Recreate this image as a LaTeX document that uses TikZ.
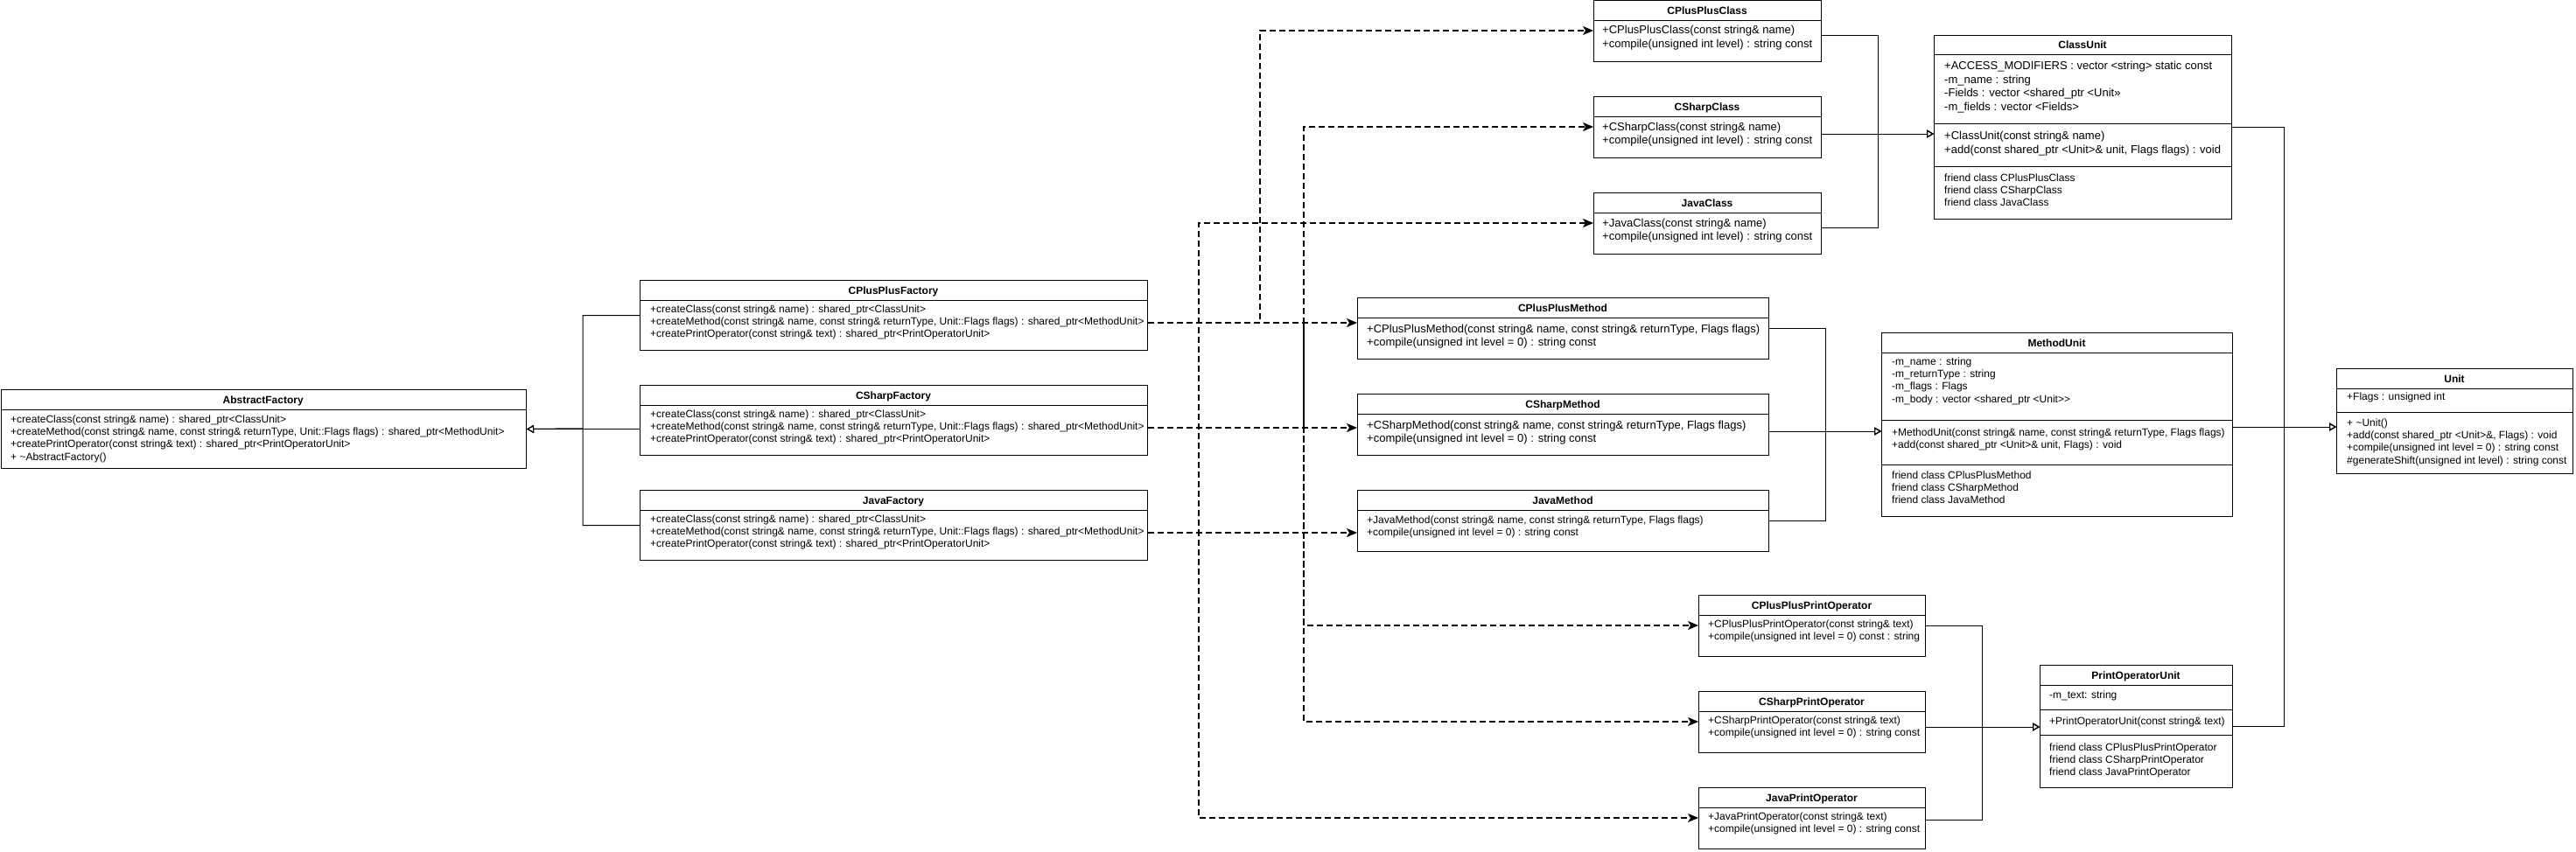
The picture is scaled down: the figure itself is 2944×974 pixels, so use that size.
\documentclass[tikz,border=0pt]{standalone}
\usepackage{fontspec}
\setmainfont{Liberation Sans}
\usetikzlibrary{arrows.meta}
\newcommand\umlrow[1]{\hbox{#1}}
\newcommand\umllines[1]{\vtop{#1}}
\tikzset{
  box/.style={draw, line width=1pt, inner sep=0pt, anchor=north west},
  hdr/.style={anchor=base, inner sep=0pt, font=\fontsize{12}{14.4}\selectfont\bfseries},
  tx/.style={anchor=base west, inner sep=0pt, font=\fontsize{12}{14.4}\selectfont},
  txl/.style={anchor=base west, inner sep=0pt, font=\fontsize{13}{15.6}\selectfont},
  sep/.style={line width=1pt},
  dep/.style={line width=1.5pt, dash pattern=on 7pt off 4pt, -{Stealth[length=12pt,width=10pt,inset=3pt]}},
  inh/.style={line width=1pt, -{Triangle[open,length=8pt,width=9pt]}}
}
\newcommand\umlbox[6]{%
  \node[box, minimum width=#4pt, minimum height=#5pt] (#1) at (#2,#3) {};
  \node[hdr] (#1-h) at ({#2+#4/2},{#3+16}) {#6};
  \draw[sep] (#2,{#3+23}) -- ++(#4,0);
}
\begin{document}
\begin{tikzpicture}[x=1pt,y=-1pt]
\useasboundingbox (0,0) rectangle (2944,974);

% ---------- AbstractFactory ----------
\umlbox{af}{0.5}{445}{600.5}{90}{AbstractFactory}
\node[tx] (af-t) at (12,483) {\umllines{%
\umlrow{+createClass(const string\& name) : shared\_ptr<ClassUnit>}%
\umlrow{+createMethod(const string\& name, const string\& returnType, Unit::Flags flags) : shared\_ptr<MethodUnit>}%
\umlrow{+createPrintOperator(const string\& text) : shared\_ptr<PrintOperatorUnit>}%
\umlrow{+ \textasciitilde AbstractFactory()}}};

% ---------- Factories ----------
\umlbox{cppf}{731}{320}{580}{80}{CPlusPlusFactory}
\node[tx] (cppf-t) at (743,357) {\umllines{%
\umlrow{+createClass(const string\& name) : shared\_ptr<ClassUnit>}%
\umlrow{+createMethod(const string\& name, const string\& returnType, Unit::Flags flags) : shared\_ptr<MethodUnit>}%
\umlrow{+createPrintOperator(const string\& text) : shared\_ptr<PrintOperatorUnit>}}};

\umlbox{csf}{731}{440}{580}{80}{CSharpFactory}
\node[tx] (csf-t) at (743,477) {\umllines{%
\umlrow{+createClass(const string\& name) : shared\_ptr<ClassUnit>}%
\umlrow{+createMethod(const string\& name, const string\& returnType, Unit::Flags flags) : shared\_ptr<MethodUnit>}%
\umlrow{+createPrintOperator(const string\& text) : shared\_ptr<PrintOperatorUnit>}}};

\umlbox{jf}{731}{560}{580}{80}{JavaFactory}
\node[tx] (jf-t) at (743,597) {\umllines{%
\umlrow{+createClass(const string\& name) : shared\_ptr<ClassUnit>}%
\umlrow{+createMethod(const string\& name, const string\& returnType, Unit::Flags flags) : shared\_ptr<MethodUnit>}%
\umlrow{+createPrintOperator(const string\& text) : shared\_ptr<PrintOperatorUnit>}}};

% ---------- Classes ----------
\umlbox{cppc}{1821}{0.5}{260}{69.5}{CPlusPlusClass}
\node[txl] (cppc-t) at (1831,39) {\umllines{%
\umlrow{+CPlusPlusClass(const string\& name)}%
\umlrow{+compile(unsigned int level) : string const}}};

\umlbox{csc}{1821}{110}{260}{70}{CSharpClass}
\node[txl] (csc-t) at (1831,149) {\umllines{%
\umlrow{+CSharpClass(const string\& name)}%
\umlrow{+compile(unsigned int level) : string const}}};

\umlbox{jc}{1821}{220}{260}{70}{JavaClass}
\node[txl] (jc-t) at (1831,259) {\umllines{%
\umlrow{+JavaClass(const string\& name)}%
\umlrow{+compile(unsigned int level) : string const}}};

% ---------- ClassUnit ----------
\umlbox{cu}{2210}{40}{340}{210}{ClassUnit}
\draw[sep] (2210,141) -- ++(340,0);
\draw[sep] (2210,190) -- ++(340,0);
\node[txl] (cu-a) at (2222,79.5) {\umllines{%
\umlrow{+ACCESS\_MODIFIERS : vector <string> static const}%
\umlrow{-m\_name : string}%
\umlrow{-Fields : vector <shared\_ptr <Unit»}%
\umlrow{-m\_fields : vector <Fields>}}};
\node[txl] (cu-m) at (2222,159.5) {\umllines{%
\umlrow{+ClassUnit(const string\& name)}%
\umlrow{+add(const shared\_ptr <Unit>\& unit, Flags flags) : void}}};
\node[tx] (cu-f) at (2222,207) {\umllines{%
\umlrow{friend class CPlusPlusClass}%
\umlrow{friend class CSharpClass}%
\umlrow{friend class JavaClass}}};

% ---------- Methods ----------
\umlbox{cppm}{1551}{340}{470}{70}{CPlusPlusMethod}
\node[txl] (cppm-t) at (1562,380) {\umllines{%
\umlrow{+CPlusPlusMethod(const string\& name, const string\& returnType, Flags flags)}%
\umlrow{+compile(unsigned int level = 0) : string const}}};

\umlbox{csm}{1551}{450}{470}{70}{CSharpMethod}
\node[txl] (csm-t) at (1562,490) {\umllines{%
\umlrow{+CSharpMethod(const string\& name, const string\& returnType, Flags flags)}%
\umlrow{+compile(unsigned int level = 0) : string const}}};

\umlbox{jm}{1551}{560}{470}{70}{JavaMethod}
\node[tx] (jm-t) at (1562,598) {\umllines{%
\umlrow{+JavaMethod(const string\& name, const string\& returnType, Flags flags)}%
\umlrow{+compile(unsigned int level = 0) : string const}}};

% ---------- MethodUnit ----------
\umlbox{mu}{2150}{380}{401}{210}{MethodUnit}
\draw[sep] (2150,480) -- ++(401,0);
\draw[sep] (2150,531) -- ++(401,0);
\node[tx] (mu-a) at (2162,417) {\umllines{%
\umlrow{-m\_name : string}%
\umlrow{-m\_returnType : string}%
\umlrow{-m\_flags : Flags}%
\umlrow{-m\_body : vector <shared\_ptr <Unit>{}>}}};
\node[tx] (mu-m) at (2162,498) {\umllines{%
\umlrow{+MethodUnit(const string\& name, const string\& returnType, Flags flags)}%
\umlrow{+add(const shared\_ptr <Unit>\& unit, Flags) : void}}};
\node[tx] (mu-f) at (2162,547) {\umllines{%
\umlrow{friend class CPlusPlusMethod}%
\umlrow{friend class CSharpMethod}%
\umlrow{friend class JavaMethod}}};

% ---------- Unit ----------
\umlbox{un}{2670}{421}{270}{120}{Unit}
\draw[sep] (2670,471) -- ++(270,0);
\node[tx] (un-a) at (2682,457) {+Flags : unsigned int};
\node[tx] (un-m) at (2682,487) {\umllines{%
\umlrow{+ \textasciitilde Unit()}%
\umlrow{+add(const shared\_ptr <Unit>\&, Flags) : void}%
\umlrow{+compile(unsigned int level = 0) : string const}%
\umlrow{\#generateShift(unsigned int level) : string const}}};

% ---------- Print operators ----------
\umlbox{cpppo}{1941}{680}{259}{70}{CPlusPlusPrintOperator}
\node[tx] (cpppo-t) at (1952,717) {\umllines{%
\umlrow{+CPlusPlusPrintOperator(const string\& text)}%
\umlrow{+compile(unsigned int level = 0) const : string}}};

\umlbox{cspo}{1941}{790}{259}{70}{CSharpPrintOperator}
\node[tx] (cspo-t) at (1952,827) {\umllines{%
\umlrow{+CSharpPrintOperator(const string\& text)}%
\umlrow{+compile(unsigned int level = 0) : string const}}};

\umlbox{jpo}{1941}{900}{259}{70}{JavaPrintOperator}
\node[tx] (jpo-t) at (1952,937) {\umllines{%
\umlrow{+JavaPrintOperator(const string\& text)}%
\umlrow{+compile(unsigned int level = 0) : string const}}};

% ---------- PrintOperatorUnit ----------
\umlbox{pou}{2331}{760}{220}{140}{PrintOperatorUnit}
\draw[sep] (2331,811) -- ++(220,0);
\draw[sep] (2331,840) -- ++(220,0);
\node[tx] (pou-a) at (2342,798) {-m\_text: string};
\node[tx] (pou-m) at (2342,828) {+PrintOperatorUnit(const string\& text)};
\node[tx] (pou-f) at (2342,858) {\umllines{%
\umlrow{friend class CPlusPlusPrintOperator}%
\umlrow{friend class CSharpPrintOperator}%
\umlrow{friend class JavaPrintOperator}}};

% ---------- Generalisations ----------
\draw[inh] (cppf.west) -| (666,490) -- (af.east);
\draw[inh] (csf.west |- af.east) -- (af.east);
\draw[inh] (jf.west) -| (666,490) -- (af.east);

\draw[inh] (cppc.east |- 0,41) -| (2146,153) -- (cu.west |- 0,153);
\draw[inh] (csc.east |- 0,153) -- (cu.west |- 0,153);
\draw[inh] (jc.east |- 0,260) -| (2146,153) -- (cu.west |- 0,153);

\draw[inh] (cppm.east |- 0,375) -| (2086,493) -- (mu.west |- 0,493);
\draw[inh] (csm.east |- 0,493) -- (mu.west |- 0,493);
\draw[inh] (jm.east |- 0,595) -| (2086,493) -- (mu.west |- 0,493);

\draw[inh] (cpppo.east |- 0,715) -| (2265,831) -- (pou.west |- 0,831);
\draw[inh] (cspo.east |- 0,831) -- (pou.west |- 0,831);
\draw[inh] (jpo.east |- 0,937) -| (2265,831) -- (pou.west |- 0,831);

\draw[inh] (cu.east |- 0,145) -| (2610,488) -- (un.west |- 0,488);
\draw[inh] (mu.east |- 0,488) -- (un.west |- 0,488);
\draw[inh] (pou.east |- 0,830) -| (2610,488) -- (un.west |- 0,488);

% ---------- Dependencies ----------
\draw[dep] (cppf.east |- 0,369) -- (1440,369) |- (cppc.west |- 0,35);
\draw[dep] (cppf.east |- 0,369) -- (cppm.west |- 0,369);
\draw[dep] (cppf.east |- 0,369) -- (1490,369) |- (cpppo.west |- 0,715);

\draw[dep] (csf.east |- 0,489) -- (1490,489) |- (csc.west |- 0,145);
\draw[dep] (csf.east |- 0,489) -- (csm.west |- 0,489);
\draw[dep] (csf.east |- 0,489) -- (1490,489) |- (cspo.west |- 0,825);

\draw[dep] (jf.east |- 0,609) -- (1370,609) |- (jc.west |- 0,255);
\draw[dep] (jf.east |- 0,609) -- (jm.west |- 0,609);
\draw[dep] (jf.east |- 0,609) -- (1370,609) |- (jpo.west |- 0,935);
\end{tikzpicture}
\end{document}
